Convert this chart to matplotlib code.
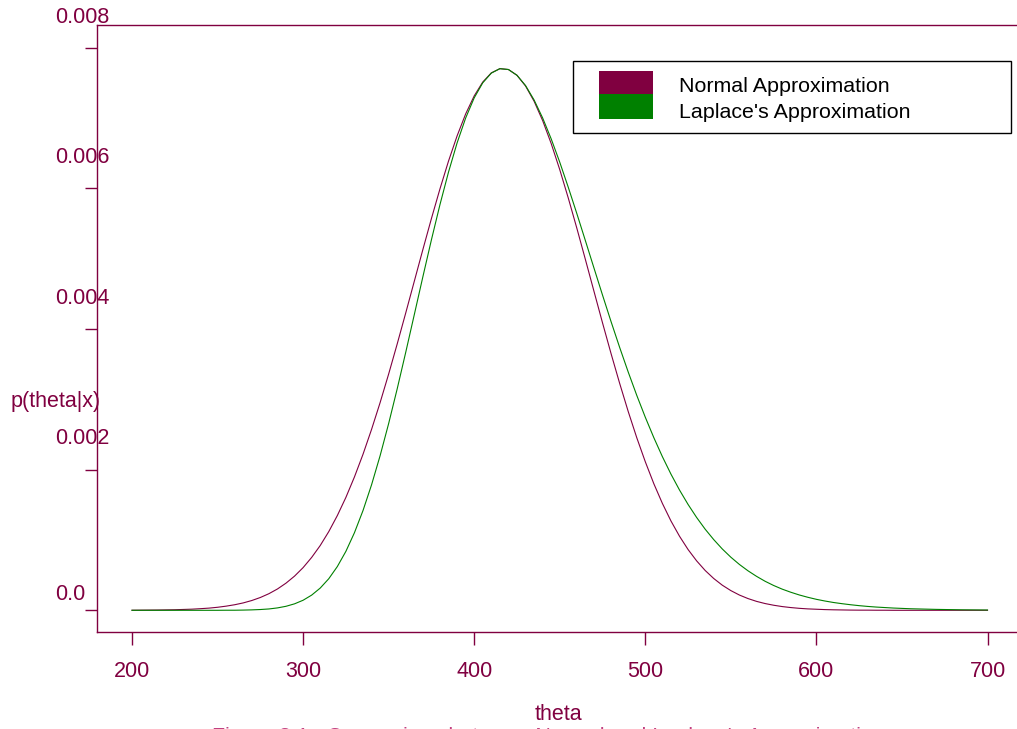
import numpy as np
import matplotlib
matplotlib.use("Agg")
import matplotlib.pyplot as plt
from matplotlib.patches import Rectangle

# ---- data ----
theta = list(range(200, 701, 5))
# densities in units of 1e-6
normal_e6 = [1, 2, 3, 4, 6, 8, 12, 16, 23, 31, 43, 59, 79, 105, 139, 182, 236, 303, 386, 486,
             607, 752, 921, 1119, 1347, 1605, 1896, 2218, 2572, 2953, 3360, 3788, 4230, 4680,
             5130, 5571, 5994, 6389, 6746, 7058, 7315, 7512, 7642, 7702, 7690, 7608, 7456, 7239,
             6964, 6637, 6266, 5861, 5432, 4987, 4536, 4087, 3649, 3228, 2828, 2455, 2112, 1799,
             1519, 1270, 1053, 864, 703, 566, 452, 357, 280, 217, 167, 127, 96, 72, 53, 39, 28,
             20, 15, 10, 7, 5, 3, 2, 2, 1, 1, 0, 0, 0, 0, 0, 0, 0, 0, 0, 0, 0, 0]
laplace_e6 = [0, 0, 0, 0, 0, 0, 0, 0, 0, 0, 0, 1, 1, 3, 6, 11, 19, 34, 57, 92, 143, 216, 316,
              449, 622, 838, 1103, 1418, 1784, 2198, 2656, 3150, 3671, 4206, 4743, 5269, 5770,
              6233, 6646, 7000, 7287, 7501, 7639, 7702, 7690, 7608, 7462, 7257, 7001, 6703, 6372,
              6014, 5640, 5255, 4867, 4482, 4104, 3739, 3389, 3057, 2745, 2454, 2184, 1936, 1710,
              1505, 1320, 1153, 1005, 872, 755, 652, 562, 483, 413, 353, 301, 257, 218, 185, 156,
              132, 111, 94, 79, 66, 55, 46, 39, 32, 27, 22, 19, 16, 13, 11, 9, 7, 6, 5, 4]
xticks = [200, 300, 400, 500, 600, 700]
yticks = [0.0, 0.002, 0.004, 0.006, 0.008]
ytick_labels = ['0.0', '0.002', '0.004', '0.006', '0.008']
series_names = ['Normal Approximation', "Laplace's Approximation"]

normal = np.array(normal_e6) * 1e-6
laplace = np.array(laplace_e6) * 1e-6

MAROON = '#800040'
GREEN = '#008000'
W, H = 1017, 729
plt.rcParams['font.family'] = ['Liberation Sans', 'DejaVu Sans']
fig = plt.figure(figsize=(W/100, H/100), dpi=100)
ax = fig.add_axes([97/W, 1-632/H, 920/W, 607/H])
ax.plot(theta, normal, color=MAROON, lw=0.8)
ax.plot(theta, laplace, color=GREEN, lw=0.8)
ax.set_xlim(179.54, 717.24)
ax.set_ylim(-0.0003086, 0.008323)
for sp in ['left', 'top', 'bottom']:
    ax.spines[sp].set_color(MAROON)
    ax.spines[sp].set_linewidth(1.0)
ax.spines['right'].set_visible(False)
ax.set_xticks(xticks)
ax.set_xticklabels([str(v) for v in xticks])
ax.tick_params(axis='x', colors=MAROON, length=9, width=1.0, pad=12, labelsize=15.5)
ax.set_yticks(yticks)
ax.set_yticklabels([])
ax.tick_params(axis='y', colors=MAROON, length=9, width=1.0)

# y tick labels sit above their ticks, left-aligned (S-PLUS style)
ylab_py = [594, 439, 298.5, 157.8, 17.2]
for lab, py in zip(ytick_labels, ylab_py):
    fig.text(55/W, 1-py/H, lab, ha='left', va='center', color=MAROON, fontsize=15.5)
fig.text(11/W, 1-401.7/H, 'p(theta|x)', ha='left', va='center', color=MAROON, fontsize=15.5)
fig.text(558/W, 1-714/H, 'theta', ha='center', va='center', color=MAROON, fontsize=15.5)
fig.text(548/W, 1-727.3/H, "Figure 3.1:  Comparison between Normal and Laplace's Approximation",
         ha='center', va='top', color='#c04080', fontsize=15.5)

def R(x0, y0, x1, y1, **kw):
    fig.patches.append(Rectangle((x0/W, 1-y1/H), (x1-x0)/W, (y1-y0)/H,
                                 transform=fig.transFigure, **kw))

R(572.7, 60.7, 1010.7, 132.7, facecolor='white', edgecolor='black', lw=1.0)
R(598.7, 71, 652.7, 93.7, facecolor=MAROON, edgecolor='none')
R(598.7, 93.7, 652.7, 118.7, facecolor=GREEN, edgecolor='none')
fig.text(679.3/W, 1-86.3/H, series_names[0], ha='left', va='center', color='black', fontsize=15.4)
fig.text(679.3/W, 1-112.8/H, series_names[1], ha='left', va='center', color='black', fontsize=15.4)

fig.savefig('out.png', dpi=100)
